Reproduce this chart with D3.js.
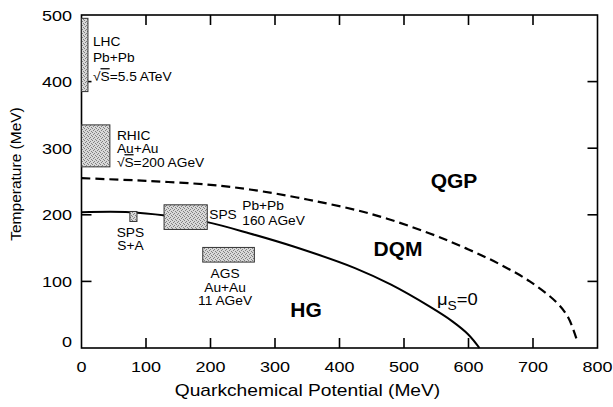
<!DOCTYPE html>
<html>
<head>
<meta charset="utf-8">
<script src="https://cdn.jsdelivr.net/npm/d3@7"></script>
<style>
  body { margin: 0; background: #fff; }
  text { font-family: "Liberation Sans", Arial, sans-serif; fill: #000; }
</style>
</head>
<body>
<script>
// phase boundary mu_s = 0 (solid)
const hgMu = [0, 75, 130, 195, 261, 330, 424, 480, 540, 575, 600, 617];
const hgT = [204, 204, 199, 189, 172, 152, 120, 95, 62, 40, 20, 0];
// DQM / QGP boundary (dashed)
const qgpMu = [0, 100, 200, 261, 350, 450, 540, 600, 650, 695, 737, 755, 768];
const qgpT = [255, 251, 245, 238, 223, 201, 172, 148, 125, 100, 68, 45, 12];

// accelerator boxes
const beams = ["LHC", "RHIC", "SPS S+A", "SPS Pb+Pb", "AGS"];
const muLo = [0, 0, 75, 128, 188];
const muHi = [10, 44, 86, 195, 268];
const tLo = [385, 272, 190, 178, 129];
const tHi = [495, 335, 205, 215, 151];

const xTicks = [0, 100, 200, 300, 400, 500, 600, 700, 800];
const yTicks = [0, 100, 200, 300, 400, 500];

width = 613;
height = 407;

x = d3.scaleLinear().domain([0, 800]).range([81.5, 597.5]);
y = d3.scaleLinear().domain([0, 500]).range([348, 15]);

const svg = d3.select("body").append("svg")
  .attr("width", width).attr("height", height);

// stipple fill for the boxes
const pat = svg.append("defs").append("pattern")
  .attr("id", "stipple").attr("patternUnits", "userSpaceOnUse")
  .attr("width", 4).attr("height", 4);
pat.append("rect").attr("width", 4).attr("height", 4).attr("fill", "#d8d8d8");
[[0, 0], [2, 1], [1, 2], [3, 3]].forEach(function (p) {
  pat.append("rect").attr("x", p[0]).attr("y", p[1])
    .attr("width", 1).attr("height", 1).attr("fill", "#808080");
});

// the scanned lettering is a bit wider than the font, so stretch it
function stext(px, py, str, size, sx, anchor, weight) {
  return svg.append("text")
    .attr("transform", `translate(${px},${py}) scale(${sx},1)`)
    .attr("font-size", size).attr("text-anchor", anchor || "start")
    .attr("font-weight", weight || "normal").text(str);
}

// ticks on all four sides, pointing inward
const frame = svg.append("g");
const tickLen = 10;
xTicks.slice(1, -1).forEach(function (t) {
  frame.append("line").attr("x1", x(t)).attr("x2", x(t))
    .attr("y1", y(0)).attr("y2", y(0) - tickLen);
  frame.append("line").attr("x1", x(t)).attr("x2", x(t))
    .attr("y1", y(500)).attr("y2", y(500) + tickLen);
});
yTicks.slice(1, -1).forEach(function (t) {
  frame.append("line").attr("x1", x(0)).attr("x2", x(0) + tickLen)
    .attr("y1", y(t)).attr("y2", y(t));
  frame.append("line").attr("x1", x(800)).attr("x2", x(800) - tickLen)
    .attr("y1", y(t)).attr("y2", y(t));
});
frame.selectAll("line").attr("stroke", "#000").attr("stroke-width", 1.6);
frame.append("rect")
  .attr("x", x(0)).attr("y", y(500))
  .attr("width", x(800) - x(0)).attr("height", y(0) - y(500))
  .attr("fill", "none").attr("stroke", "#000").attr("stroke-width", 1.6);

xTicks.forEach(function (t) { stext(x(t), 372, t, 15, 1.2, "middle"); });
yTicks.forEach(function (t) {
  stext(72, t === 0 ? y(t) - 1 : y(t) + 5.5, t, 15, 1.2, "end");
});

stext(307.5, 396, "Quarkchemical Potential (MeV)", 16, 1.2, "middle");
svg.append("text").attr("transform", "translate(21,174) rotate(-90)")
  .attr("text-anchor", "middle").attr("font-size", 15.5)
  .text("Temperature (MeV)");

// curves
const line = d3.line().curve(d3.curveCatmullRom.alpha(0.5))
  .x(function (d) { return x(d[0]); }).y(function (d) { return y(d[1]); });
svg.append("path").datum(d3.zip(qgpMu, qgpT)).attr("d", line)
  .attr("fill", "none").attr("stroke", "#000").attr("stroke-width", 2.2)
  .attr("stroke-dasharray", "9,5");
svg.append("path").datum(d3.zip(hgMu, hgT)).attr("d", line)
  .attr("fill", "none").attr("stroke", "#000").attr("stroke-width", 2);

// boxes
svg.append("g").selectAll("rect").data(beams).enter().append("rect")
  .attr("x", function (d, i) { return x(muLo[i]); })
  .attr("y", function (d, i) { return y(tHi[i]); })
  .attr("width", function (d, i) { return x(muHi[i]) - x(muLo[i]); })
  .attr("height", function (d, i) { return y(tLo[i]) - y(tHi[i]); })
  .attr("fill", "url(#stipple)").attr("stroke", "#333").attr("stroke-width", 1);

// box labels
function label(lines, x0, baselines, anchor) {
  lines.forEach(function (s, k) {
    const t = svg.append("text")
      .attr("transform", `translate(${x0},${baselines[k]}) scale(1.1,1)`)
      .attr("font-size", 12.5).attr("text-anchor", anchor);
    if (s.indexOf("√S") === 0) {
      t.append("tspan").text("√");
      t.append("tspan").attr("text-decoration", "overline").text("S");
      t.append("tspan").text(s.slice(2));
    } else {
      t.text(s);
    }
  });
}
label(["LHC", "Pb+Pb", "√S=5.5 ATeV"], x(muHi[0]) + 5, [45.5, 62, 80.5], "start");
label(["RHIC", "Au+Au", "√S=200 AGeV"], x(muHi[1]) + 7, [139.5, 152.5, 166.5], "start");
label(["SPS", "S+A"], (x(muLo[2]) + x(muHi[2])) / 2 - 3, [236.5, 249.5], "middle");
label(["SPS"], x(muHi[3]) + 2, [218.5], "start");
label(["Pb+Pb", "160 AGeV"], x(muHi[3]) + 35, [209.5, 224.5], "start");
label(["AGS", "Au+Au", "11 AGeV"], (x(muLo[4]) + x(muHi[4])) / 2 - 3.5, [277.5, 291.5, 304.5], "middle");

// region names
stext(454, 187.5, "QGP", 21, 1, "middle", "bold");
stext(398, 255.5, "DQM", 21, 1, "middle", "bold");
stext(306, 316.5, "HG", 21, 1, "middle", "bold");

const mu = svg.append("text")
  .attr("transform", "translate(437,305) scale(1.15,1)").attr("font-size", 16);
mu.append("tspan").text("μ");
mu.append("tspan").attr("font-size", 12).attr("dy", 5).text("S");
mu.append("tspan").attr("dy", -5).text("=0");
</script>
</body>
</html>
